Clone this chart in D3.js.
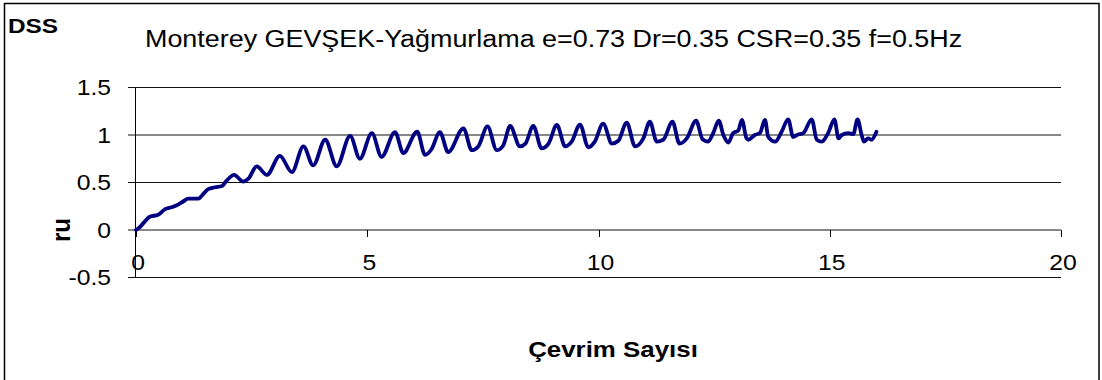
<!DOCTYPE html>
<html>
<head>
<meta charset="utf-8">
<script src="https://cdn.jsdelivr.net/npm/d3@7"></script>
<style>
  html, body { margin: 0; padding: 0; background: #fff; }
  svg { display: block; }
  text { font-family: "Liberation Sans", Arial, sans-serif; fill: #000; }
</style>
</head>
<body>
<svg id="chart" width="1102" height="380"></svg>
<script>
// Excess pore pressure ratio vs. number of loading cycles
const cycles = [0, 0.06, 0.30, 0.48, 0.63, 0.77, 0.92, 1.02, 1.13, 1.35, 1.42, 1.56, 1.71, 1.85, 1.96,
  2.12, 2.32, 2.43, 2.61, 2.83, 3.11, 3.37, 3.62, 3.83, 4.09, 4.34, 4.63, 4.84, 5.10, 5.31,
  5.60, 5.78, 6.08, 6.25, 6.39, 6.57, 6.75, 7.08, 7.26, 7.40, 7.60, 7.80, 7.94, 8.09, 8.30,
  8.42, 8.59, 8.77, 8.92, 9.10, 9.28, 9.42, 9.60, 9.78, 9.92, 10.10, 10.29, 10.43, 10.61, 10.79,
  10.97, 11.11, 11.26, 11.40, 11.60, 11.75, 11.91, 12.11, 12.25, 12.37, 12.48, 12.60, 12.70, 12.81, 12.91,
  13.02, 13.10, 13.20, 13.24, 13.38, 13.49, 13.60, 13.67, 13.82, 13.96, 14.10, 14.21, 14.29, 14.43, 14.61,
  14.72, 14.83, 14.97, 15.10, 15.19, 15.26, 15.40, 15.51, 15.60, 15.69, 15.74, 15.83, 15.90, 16.01];
const ru = [0, 0.02, 0.14, 0.16, 0.22, 0.24, 0.27, 0.30, 0.33, 0.33, 0.36, 0.43, 0.45, 0.46, 0.52,
  0.58, 0.51, 0.54, 0.67, 0.58, 0.78, 0.61, 0.88, 0.68, 0.95, 0.67, 0.99, 0.75, 1.02, 0.77,
  1.03, 0.81, 1.035, 0.79, 0.85, 1.03, 0.82, 1.07, 0.84, 0.88, 1.09, 0.84, 0.89, 1.095, 0.88,
  0.91, 1.095, 0.86, 0.91, 1.105, 0.88, 0.93, 1.11, 0.87, 0.93, 1.12, 0.91, 0.94, 1.13, 0.88,
  0.965, 1.14, 0.93, 0.95, 1.14, 0.91, 0.965, 1.15, 0.955, 0.93, 1.02, 1.15, 1.0, 0.92, 1.02,
  1.045, 1.16, 0.965, 0.95, 1.0, 1.02, 1.16, 0.98, 0.93, 1.035, 1.165, 0.98, 1.0, 1.02, 1.165,
  0.95, 0.93, 1.025, 1.165, 0.965, 1.0, 1.02, 1.01, 1.165, 1.0, 0.93, 0.965, 0.95, 1.035];

const xTicks = [0, 5, 10, 15, 20];
const yTicks = [-0.5, 0, 0.5, 1, 1.5];
const titleText = "Monterey GEVŞEK-Yağmurlama e=0.73 Dr=0.35 CSR=0.35 f=0.5Hz";
const cornerText = "DSS";
const xLabel = "Çevrim Sayısı";
const yLabel = "ru";

const svg = d3.select("#chart");

const x = d3.scaleLinear().domain([0, 20]).range([136, 1061]);
const y = d3.scaleLinear().domain([-0.5, 1.5]).range([277.5, 87.5]);

// outer frame
svg.append("rect")
  .attr("x", 4.5).attr("y", 3.5).attr("width", 1094.5).attr("height", 400)
  .attr("fill", "none").attr("stroke", "#000").attr("stroke-width", 1.5);

// lettering is drawn slightly wide
function label(txt, px, py, opts) {
  const sx = opts.sx || 1.15, sy = opts.sy || 1;
  const g = svg.append("g")
    .attr("transform", `translate(${px},${py}) rotate(${opts.rotate || 0}) scale(${sx},${sy})`);
  g.append("text")
    .attr("text-anchor", opts.anchor || "start")
    .attr("font-size", opts.size)
    .attr("font-weight", opts.weight || "normal")
    .text(txt);
  return g;
}

// horizontal gridlines
svg.append("g").selectAll("line").data(yTicks).join("line")
  .attr("x1", x(0) - 8).attr("x2", x(20))
  .attr("y1", d => y(d)).attr("y2", d => y(d))
  .attr("stroke", "#111").attr("stroke-width", 1);

// y axis line
svg.append("line")
  .attr("x1", 135.5).attr("x2", 135.5).attr("y1", y(1.5)).attr("y2", y(-0.5))
  .attr("stroke", "#000").attr("stroke-width", 1);

// x tick marks on the zero line
svg.append("g").selectAll("line").data(xTicks).join("line")
  .attr("x1", d => Math.round(x(d)) + 0.5).attr("x2", d => Math.round(x(d)) + 0.5)
  .attr("y1", y(0)).attr("y2", y(0) + 7)
  .attr("stroke", "#000").attr("stroke-width", 1);

// tick labels
yTicks.forEach(d => label(String(d), 111, y(d) + 7.8, { anchor: "end", size: 21.5 }));
xTicks.forEach(d => label(String(d), x(d) + 2, 270, { anchor: "middle", size: 21.5 }));

// titles
label(titleText, 145, 47, { size: 23, sx: 1.17 });
label(cornerText, 8, 33, { size: 19.5, weight: "bold", sx: 1.25 });
label(xLabel, 613, 357, { anchor: "middle", size: 22.5, weight: "bold", sx: 1.15 });
label(yLabel, 70, 230, { anchor: "middle", size: 22, weight: "bold", rotate: -90, sx: 1.1, sy: 1.2 });

// data line
const pts = cycles.map((c, i) => [c, ru[i]]);
svg.append("path")
  .datum(pts)
  .attr("fill", "none")
  .attr("stroke", "#000080")
  .attr("stroke-width", 3.8)
  .attr("stroke-linejoin", "round")
  .attr("stroke-linecap", "round")
  .attr("d", d3.line().x(d => x(d[0])).y(d => y(d[1])).curve(d3.curveMonotoneX));
</script>
</body>
</html>
